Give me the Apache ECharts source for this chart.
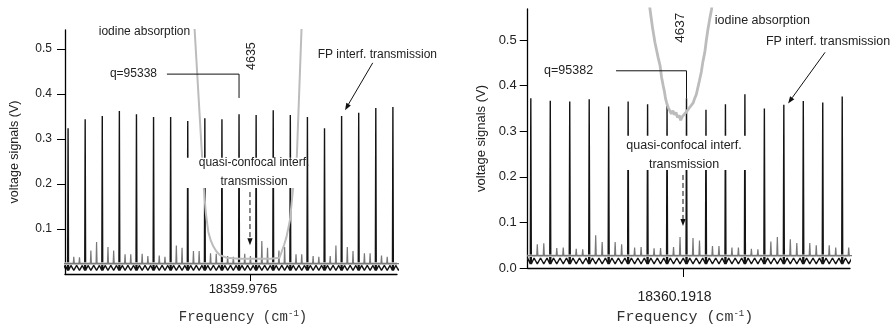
<!DOCTYPE html>
<html>
<head>
<meta charset="utf-8">
<script src="https://cdn.jsdelivr.net/npm/echarts@6/dist/echarts.min.js"></script>
<style>
  html, body { margin: 0; padding: 0; background: #fff; }
  #chart { width: 893px; height: 330px; }
</style>
</head>
<body>
<div id="chart"></div>
<script>
// Frequency is plotted as an offset (10^-3 cm^-1) from each panel's marked wavenumber.
const leftCenterLabel = '18359.9765';
const rightCenterLabel = '18360.1918';

// Fabry-Perot interferometer transmission peaks: positions (10^-3 cm^-1) and heights (V)
const fpPosLeft = [-53.2, -48.2, -43.2, -38.2, -33.2, -28.2, -23.2, -18.2, -13.2, -8.2,
                   -3.2, 1.8, 6.8, 11.8, 16.8, 21.8, 26.8, 31.8, 36.8, 41.8];
const fpHeightLeft = [0.324, 0.344, 0.351, 0.362, 0.355, 0.349, 0.349, 0.340, 0.346, 0.344,
                      0.355, 0.353, 0.364, 0.353, 0.349, 0.324, 0.351, 0.358, 0.369, 0.371];
const fpPosRight = [-39.1, -34.1, -29.1, -24.1, -19.1, -14.1, -9.1, -4.1, 0.9, 5.9,
                    10.9, 15.9, 20.9, 25.9, 30.9, 35.9, 40.9];
const fpHeightRight = [0.372, 0.367, 0.365, 0.370, 0.354, 0.365, 0.359, 0.358, 0.372, 0.347,
                       0.359, 0.381, 0.350, 0.358, 0.366, 0.363, 0.376];

// Quasi-confocal interferometer peaks, two between each pair of FP peaks (V)
const qcHeightLeft = [0.038, 0.037, 0.052, 0.071, 0.060, 0.052, 0.044, 0.044, 0.045, 0.040,
                      0.041, 0.038, 0.063, 0.058, 0.051, 0.051, 0.046, 0.045, 0.040, 0.038,
                      0.045, 0.040, 0.073, 0.058, 0.052, 0.060, 0.044, 0.044, 0.040, 0.038,
                      0.040, 0.063, 0.060, 0.051, 0.046, 0.046, 0.041, 0.038];
const qcHeightRight = [0.052, 0.054, 0.044, 0.045, 0.042, 0.041, 0.072, 0.057, 0.057, 0.052,
                       0.045, 0.046, 0.043, 0.044, 0.046, 0.068, 0.066, 0.060, 0.048, 0.048,
                       0.045, 0.045, 0.042, 0.041, 0.058, 0.068, 0.063, 0.055, 0.055, 0.050,
                       0.050, 0.045, 0.045];

// Baseline levels (V): FP ripple trough / crest, quasi-confocal baseline
const baseLeft = { low: 0.008, high: 0.019, qc: 0.023 };
const baseRight = { low: 0.009, high: 0.022, qc: 0.027 };

// Iodine absorption traces [offset, V]
const iodineLeft = [
  [-16.4, 0.57], [-14.0, 0.26], [-13.5, 0.19], [-12.9, 0.135], [-12.2, 0.094], [-11.5, 0.075],
  [-10.7, 0.061], [-9.8, 0.050], [-8.8, 0.042], [-6.8, 0.036], [-3.0, 0.034], [2.0, 0.034],
  [6.0, 0.034], [8.6, 0.036], [9.3, 0.050], [10.0, 0.065], [10.7, 0.083], [11.7, 0.12],
  [12.6, 0.19], [13.7, 0.26], [15.2, 0.57]
];
const iodineRight = [
  [-8.6, 0.575], [-8.2, 0.55], [-7.8, 0.525], [-7.5, 0.51], [-7.2, 0.494], [-6.8, 0.478],
  [-6.4, 0.462], [-5.9, 0.444], [-5.5, 0.418], [-5.1, 0.40], [-4.8, 0.388], [-4.5, 0.372],
  [-4.2, 0.362], [-3.8, 0.352], [-3.4, 0.349], [-3.0, 0.338], [-2.6, 0.345], [-2.2, 0.336],
  [-1.8, 0.341], [-1.4, 0.330], [-1.0, 0.335], [-0.6, 0.324], [-0.2, 0.332], [0.3, 0.328],
  [0.8, 0.342], [1.2, 0.338], [1.7, 0.352], [2.1, 0.356], [2.6, 0.362], [3.0, 0.372],
  [3.4, 0.380], [3.8, 0.395], [4.2, 0.410], [4.7, 0.430], [5.1, 0.452], [5.6, 0.473],
  [6.0, 0.500], [6.4, 0.523], [6.9, 0.548], [7.3, 0.566], [7.6, 0.585]
];

// Tick labels
const yTicksLeft = [0.1, 0.2, 0.3, 0.4, 0.5];
const yTicksRight = [0.0, 0.1, 0.2, 0.3, 0.4, 0.5];
const xTicks = [0];

const FSR = 5;            // FP free spectral range in 10^-3 cm^-1
const QC_STEP = FSR / 3;  // quasi-confocal comb spacing

function qcPeaks(fpPos, heights) {
  const out = [];
  let n = 0;
  for (let k = 0; k < fpPos.length && n < heights.length; k++) {
    for (let i = 1; i <= 2 && n < heights.length; i++) {
      out.push([fpPos[k] + i * QC_STEP, heights[n++]]);
    }
  }
  return out;
}

function spikeTrace(peaks, base, xMin, xMax, hw) {
  const d = [[xMin - 2, base]];
  peaks.forEach(([x, h]) => { d.push([x - hw, base], [x, h], [x + hw, base]); });
  d.push([xMax + 2, base]);
  return d;
}

// FP trace: small arch ripple along the comb plus tall transmission spikes
function fpTrace(fpPos, fpH, lv) {
  const comb = [];
  for (let i = 3; i >= 1; i--) comb.push({ x: fpPos[0] - i * QC_STEP });
  fpPos.forEach((x, k) => {
    comb.push({ x, h: fpH[k] });
    comb.push({ x: x + QC_STEP });
    comb.push({ x: x + 2 * QC_STEP });
  });
  comb.push({ x: fpPos[fpPos.length - 1] + 3 * QC_STEP });
  const d = [];
  comb.forEach((c, i) => {
    if (c.h !== undefined) {
      d.push([c.x - 0.13, lv.low], [c.x, c.h], [c.x + 0.13, lv.low]);
    } else {
      d.push([c.x, lv.low]);
    }
    if (i < comb.length - 1) d.push([(c.x + comb[i + 1].x) / 2, lv.high]);
  });
  return d;
}

const FONT = 'Liberation Sans, Arial, sans-serif';
const MONO = 'Liberation Mono, Courier New, monospace';

const xRange = [{ min: -54.1, max: 43.0 }, { min: -39.9, max: 42.9 }];

function xAxisCfg(g, label, fs, margin, tickLen, labelPad, nameGap, nameFs, namePad) {
  return {
    gridIndex: g, type: 'value', min: xRange[g].min, max: xRange[g].max,
    axisLine: { show: true, onZero: false, lineStyle: { color: '#000', width: 1.3 } },
    splitLine: { show: false },
    axisTick: { show: true, customValues: xTicks, length: tickLen, lineStyle: { color: '#000', width: 1 } },
    axisLabel: { customValues: xTicks, formatter: () => label, fontSize: fs, fontFamily: FONT,
                 color: '#222', margin: margin, padding: labelPad },
    name: 'Frequency (cm{sup|-1})', nameLocation: 'middle', nameGap: nameGap,
    nameTextStyle: { fontFamily: MONO, fontSize: nameFs, color: '#333', padding: namePad,
                     rich: { sup: { fontFamily: MONO, fontSize: Math.round(nameFs * 0.62), verticalAlign: 'top',
                                    padding: [0, 0, Math.round(nameFs * 0.5), 0], color: '#333' } } }
  };
}

function yAxisCfg(g, max, ticks, fs, margin, nameGap, nameFs) {
  return {
    gridIndex: g, type: 'value', min: 0, max: max,
    axisLine: { show: true, onZero: false, lineStyle: { color: '#000', width: 1.3 } },
    splitLine: { show: false },
    axisTick: { show: true, customValues: ticks, length: 8, lineStyle: { color: '#000', width: 1 } },
    axisLabel: { customValues: ticks, formatter: v => Number(v).toFixed(1), fontSize: fs,
                 fontFamily: FONT, color: '#222', margin: margin },
    name: 'voltage signals (V)', nameLocation: 'middle', nameGap: nameGap,
    nameTextStyle: { fontFamily: FONT, fontSize: nameFs, color: '#222' }
  };
}

function panelSeries(g, fpPos, fpH, qcH, lv, iodine, iodineWidth) {
  const common = { type: 'line', xAxisIndex: g, yAxisIndex: g, showSymbol: false, symbol: 'none',
                   animation: false, silent: true, clip: true };
  return [
    Object.assign({}, common, { name: 'FP', data: fpTrace(fpPos, fpH, lv),
      lineStyle: { color: '#141414', width: 1.4 }, z: 2 }),
    Object.assign({}, common, { name: 'qc band', data: [[xRange[g].min, lv.qc], [xRange[g].max, lv.qc]],
      lineStyle: { color: '#cdcdcd', width: 2.6 }, z: 3 }),
    Object.assign({}, common, { name: 'quasi-confocal', data: spikeTrace(qcPeaks(fpPos, qcH), lv.qc, xRange[g].min, xRange[g].max, 0.15),
      lineStyle: { color: '#787878', width: 1.2 }, z: 4 }),
    Object.assign({}, common, { name: 'iodine', data: iodine,
      lineStyle: { color: '#bcbcbc', width: iodineWidth }, z: 5 })
  ];
}

const chart = echarts.init(document.getElementById('chart'), null, { renderer: 'canvas' });

chart.setOption({
  animation: false,
  backgroundColor: '#fff',
  grid: [
    { left: 65, top: 30, width: 332, height: 244 },
    { left: 527.7, top: 9, width: 322.3, height: 263.7 }
  ],
  xAxis: [
    xAxisCfg(0, leftCenterLabel, 13, 9, 7, [0, 14, 0, 0], 35, 14, [0, 0, 0, 24]),
    xAxisCfg(1, rightCenterLabel, 14, 22, 9, [0, 17, 0, 0], 41, 15, [0, 8, 0, 0])
  ],
  yAxis: [
    yAxisCfg(0, 0.542, yTicksLeft, 12, 13, 44, 12.5),
    yAxisCfg(1, 0.568, yTicksRight, 13, 11, 40, 13)
  ],
  series: [].concat(
    panelSeries(0, fpPosLeft, fpHeightLeft, qcHeightLeft, baseLeft, iodineLeft, 2),
    panelSeries(1, fpPosRight, fpHeightRight, qcHeightRight, baseRight, iodineRight, 2.8)
  )
});

// Annotations, anchored in data coordinates of each panel
const notes = [
  {
    g: 0, fs: 12, numFs: 12.5,
    iodine: { at: [-17.5, 0.538], align: 'right' },
    q: { text: 'q=95338', at: [-27.2, 0.444] },
    bracket: [[-24.3, 0.444], [-3.2, 0.444], [-3.2, 0.391]],
    order: { text: '4635', at: [0.6, 0.484] },
    fp: { at: [19.8, 0.487], arrow: [[35.9, 0.469], [27.8, 0.364]] },
    box: { x0: -19.6, x1: 15.2, y0: 0.258, y1: 0.191, at: [1.2, 0.2256] },
    dash: [[0, 0.182], [0, 0.064]]
  },
  {
    g: 1, fs: 12.5, numFs: 13.5,
    iodine: { at: [8.15, 0.542], align: 'left' },
    q: { text: 'q=95382', at: [-23.1, 0.4325] },
    bracket: [[-17.2, 0.4325], [0.9, 0.4325], [0.9, 0.372]],
    order: { text: '4637', at: [-0.8, 0.527] },
    fp: { at: [21.3, 0.497], arrow: [[36.5, 0.473], [27.0, 0.361]] },
    box: { x0: -16.7, x1: 17.7, y0: 0.29, y1: 0.215, at: [0.26, 0.2487] },
    dash: [[0, 0.204], [0, 0.092]]
  }
];

function arrowEls(p0, p1, dashed) {
  const dx = p1[0] - p0[0], dy = p1[1] - p0[1];
  const L = Math.hypot(dx, dy), ux = dx / L, uy = dy / L;
  const hl = 7, hw = 2.6;
  const b = [p1[0] - ux * hl, p1[1] - uy * hl];
  return [
    { type: 'line', z: 100, shape: { x1: p0[0], y1: p0[1], x2: b[0], y2: b[1] },
      style: { stroke: '#111', lineWidth: 1, lineDash: dashed ? [5, 3] : null } },
    { type: 'polygon', z: 100, shape: { points: [p1, [b[0] - uy * hw, b[1] + ux * hw], [b[0] + uy * hw, b[1] - ux * hw]] },
      style: { fill: '#111' } }
  ];
}

function textEl(p, text, fs, align, extra) {
  return Object.assign({ type: 'text', z: 100, x: p[0], y: p[1],
    style: { text, fontSize: fs, fontFamily: FONT, fill: '#222', align, verticalAlign: 'middle' } }, extra || {});
}

const graphics = [];
notes.forEach(n => {
  const P = v => chart.convertToPixel({ gridIndex: n.g }, v);
  graphics.push(textEl(P(n.iodine.at), 'iodine absorption', n.fs, n.iodine.align));
  graphics.push(textEl(P(n.q.at), n.q.text, n.fs, 'right'));
  graphics.push({ type: 'polyline', z: 100, shape: { points: n.bracket.map(P) },
                  style: { stroke: '#111', lineWidth: 1, fill: null } });
  graphics.push(textEl(P(n.order.at), n.order.text, n.numFs, 'center', { rotation: Math.PI / 2 }));
  graphics.push(textEl(P(n.fp.at), 'FP interf. transmission', n.fs, 'left'));
  arrowEls(P(n.fp.arrow[0]), P(n.fp.arrow[1]), false).forEach(e => graphics.push(e));
  const a = P([n.box.x0, n.box.y0]), b = P([n.box.x1, n.box.y1]);
  graphics.push({ type: 'rect', z: 90, shape: { x: a[0], y: a[1], width: b[0] - a[0], height: b[1] - a[1] },
                  style: { fill: '#fff' } });
  graphics.push(textEl(P(n.box.at), 'quasi-confocal interf.\ntransmission', n.fs, 'center',
                       { style: { text: 'quasi-confocal interf.\ntransmission', fontSize: n.fs, fontFamily: FONT,
                                  fill: '#222', align: 'center', verticalAlign: 'middle', lineHeight: 19 } }));
  arrowEls(P(n.dash[0]), P(n.dash[1]), true).forEach(e => graphics.push(e));
});
chart.setOption({ graphic: { elements: graphics } });
</script>
</body>
</html>
